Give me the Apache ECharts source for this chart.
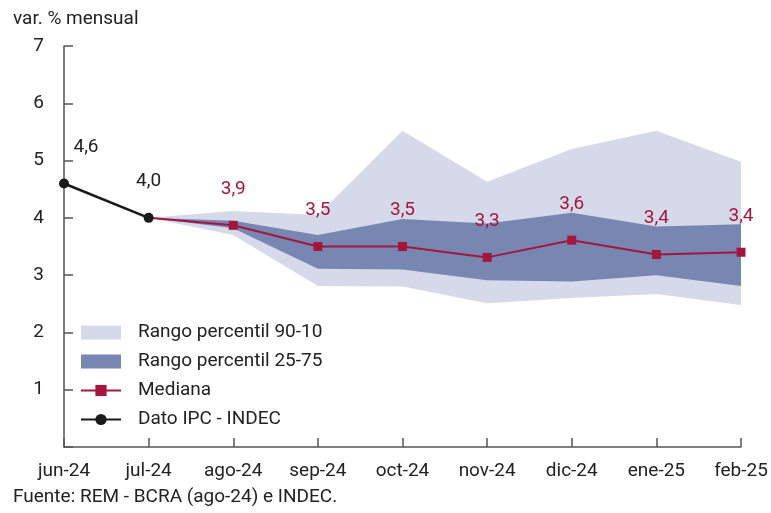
<!DOCTYPE html>
<html>
<head>
<meta charset="utf-8">
<script src="https://cdn.jsdelivr.net/npm/echarts@6/dist/echarts.min.js"></script>
<style>
  html, body { margin: 0; padding: 0; background: #fff; }
  #chart { width: 771px; height: 513px; }
</style>
</head>
<body>
<div id="chart"></div>
<script>
// meses
const months = ['jun-24', 'jul-24', 'ago-24', 'sep-24', 'oct-24', 'nov-24', 'dic-24', 'ene-25', 'feb-25'];
// dato IPC - INDEC
const ipc = [4.6, 4.0, null, null, null, null, null, null, null];
// REM: mediana y percentiles
const mediana = [null, 4.0, 3.87, 3.50, 3.50, 3.31, 3.61, 3.36, 3.40];
const p10 = [null, 4.0, 3.70, 2.81, 2.80, 2.51, 2.60, 2.67, 2.48];
const p90 = [null, 4.0, 4.12, 4.05, 5.52, 4.63, 5.20, 5.52, 4.98];
const p25 = [null, 4.0, 3.82, 3.11, 3.10, 2.91, 2.89, 3.00, 2.81];
const p75 = [null, 4.0, 3.95, 3.70, 3.98, 3.90, 4.09, 3.85, 3.89];

const RED = '#a3173f';
const LIGHT = '#d6d9e9';
const DARK = '#7886b2';
const FONT = 'Roboto';
const FS = 19;

const diff = (hi, lo) => hi.map((v, i) => (v == null ? '-' : +(v - lo[i]).toFixed(2)));
const orDash = arr => arr.map(v => (v == null ? '-' : v));
const fmt = p => (typeof p.value === 'number' ? p.value.toFixed(1).replace('.', ',') : '');

const chart = echarts.init(document.getElementById('chart'));

const bandBase = (stack, data) => ({
  type: 'line', stack: stack, data: orDash(data), symbol: 'none',
  lineStyle: { opacity: 0 }, silent: true, z: 1
});
const band = (name, stack, data, color) => ({
  name: name, type: 'line', stack: stack, data: data, symbol: 'none',
  lineStyle: { width: 0 }, itemStyle: { color: color },
  areaStyle: { color: color, opacity: 1 }, silent: true, z: 1
});

const option = {
  animation: false,
  textStyle: { fontFamily: FONT },
  title: [
    { text: 'var. % mensual', left: 8, top: 5,
      textStyle: { fontFamily: FONT, fontSize: FS, fontWeight: 'normal', color: '#222' } },
    { text: 'Fuente: REM - BCRA (ago-24) e INDEC.', left: 8, top: 483,
      textStyle: { fontFamily: FONT, fontSize: FS, fontWeight: 'normal', color: '#222' } }
  ],
  legend: {
    orient: 'vertical', left: 75, top: 318, itemWidth: 40, itemHeight: 14, itemGap: 10,
    textStyle: { fontFamily: FONT, fontSize: FS, color: '#222', padding: [0, 0, 0, 12] },
    data: [
      { name: 'Rango percentil 90-10', icon: 'rect' },
      { name: 'Rango percentil 25-75', icon: 'rect' },
      { name: 'Mediana' },
      { name: 'Dato IPC - INDEC' }
    ]
  },
  grid: { left: 64, right: 30, top: 46, bottom: 66, containLabel: false, outerBoundsMode: 'none' },
  xAxis: {
    type: 'category', data: months, boundaryGap: false,
    axisLine: { lineStyle: { color: '#555', width: 1.5 } },
    axisTick: { inside: true, length: 9, lineStyle: { color: '#555', width: 1.5 } },
    axisLabel: { margin: 15, fontSize: FS, color: '#222', interval: 0, fontFamily: FONT },
    splitLine: { show: false }
  },
  yAxis: {
    type: 'value', min: 0, max: 7, interval: 1,
    axisLine: { show: true, lineStyle: { color: '#555', width: 1.5 } },
    axisTick: { show: true, inside: true, length: 9, lineStyle: { color: '#555', width: 1.5 } },
    axisLabel: { margin: 20, fontSize: FS, color: '#222', fontFamily: FONT,
      formatter: v => (v === 0 ? '' : v) },
    splitLine: { show: false }
  },
  series: [
    bandBase('b90', p10),
    band('Rango percentil 90-10', 'b90', diff(p90, p10), LIGHT),
    bandBase('b75', p25),
    band('Rango percentil 25-75', 'b75', diff(p75, p25), DARK),
    {
      name: 'Mediana', type: 'line', z: 3,
      data: mediana.map((v, i) => (i === 1 ? { value: v, symbol: 'none', label: { show: false } } : (v == null ? '-' : v))),
      symbol: 'rect', symbolSize: 9,
      lineStyle: { color: RED, width: 2 }, itemStyle: { color: RED },
      label: { show: true, position: 'top', distance: 22, color: RED, fontSize: FS, fontFamily: FONT, formatter: fmt }
    },
    {
      name: 'Dato IPC - INDEC', type: 'line', z: 4,
      data: ipc.map((v, i) => (i === 0 ? { value: v, label: { offset: [22, 0] } } : (v == null ? '-' : v))),
      symbol: 'circle', symbolSize: 10,
      lineStyle: { color: '#1a1a1a', width: 2.5 }, itemStyle: { color: '#1a1a1a' },
      label: { show: true, position: 'top', distance: 22, color: '#222', fontSize: FS, fontFamily: FONT, formatter: fmt }
    }
  ]
};

chart.setOption(option);
</script>
</body>
</html>
